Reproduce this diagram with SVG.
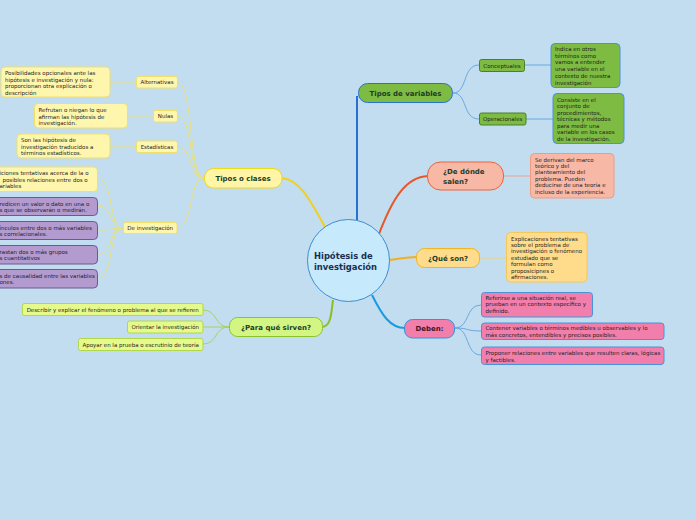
<svg xmlns="http://www.w3.org/2000/svg" width="696" height="520" viewBox="0 0 696 520">
<style>
text{font-family:"DejaVu Sans","Verdana",sans-serif;}
.s{font-size:5.5px;fill:#1e1e1e;}
.l{font-size:5.5px;fill:#1e1e1e;}
.h{font-size:7px;font-weight:bold;fill:#1d3d28;}
.c{font-size:8.4px;font-weight:bold;fill:#1b2e52;}
.yb{fill:#fff6ad;stroke:#f0df6a;stroke-width:1;}
.pb{fill:#b39bd0;stroke:#6b5a8a;stroke-width:1;}
.gb{fill:#7dbb42;stroke:#4b7f2a;stroke-width:1;}
.pk{fill:#f27fab;stroke:#4a92d8;stroke-width:1;}
.lg{fill:#e6fa8c;stroke:#b2d64c;stroke-width:1;}
.cy{fill:none;stroke:#e8e27a;stroke-width:1;}
.cb{fill:none;stroke:#6aa8e0;stroke-width:1;}
.cg{fill:none;stroke:#a9d064;stroke-width:1;}
</style>
<rect x="0" y="0" width="696" height="520" fill="#c2ddf0"/>
<g id="connectors">
<path d="M357,221 L357,96" fill="none" stroke="#2a70d2" stroke-width="2"/>
<path d="M379,234 C392,200 405,177 428,176" fill="none" stroke="#e8562a" stroke-width="2"/>
<path d="M389,260 C400,259 405,257 417,257" fill="none" stroke="#f0b020" stroke-width="2"/>
<path d="M372,295 C382,315 390,328 405,328" fill="none" stroke="#1a9ae0" stroke-width="2"/>
<path d="M333,300 C331,315 331,326 322,327" fill="none" stroke="#8cbd22" stroke-width="2"/>
<path d="M325,227 C310,200 300,180 282,178" fill="none" stroke="#f0d020" stroke-width="2"/>
<path d="M453,93 C468,93 462,65 479,65" class="cb"/>
<path d="M453,93 C468,93 462,119 479,119" class="cb"/>
<path d="M524,65 L551,65" class="cb"/>
<path d="M526,119 L553,119" class="cb"/>
<path d="M503,176 L530,176" fill="none" stroke="#e8a596" stroke-width="1"/>
<path d="M479,258 L506,258" fill="none" stroke="#f3d270" stroke-width="1"/>
<path d="M455,328 C470,328 465,305 481,305" class="cb"/>
<path d="M455,328 C470,328 465,331 481,331" class="cb"/>
<path d="M455,328 C470,328 465,355 481,355" class="cb"/>
<path d="M229,327 C214,327 218,310 203,310" class="cg"/>
<path d="M229,327 L203,327" class="cg"/>
<path d="M229,327 C214,327 218,344 203,344" class="cg"/>
<path d="M204,178 C188,178 194,82 177,82" class="cy"/>
<path d="M204,178 C188,178 194,116 177,116" class="cy"/>
<path d="M204,178 C188,178 194,147 177,147" class="cy"/>
<path d="M204,178 C188,178 194,228 177,228" class="cy"/>
<path d="M110,82 L136,82" class="cy"/>
<path d="M128,116 L153,116" class="cy"/>
<path d="M110,147 L136,147" class="cy"/>
<path d="M123,228 C108,228 114,179 98,179" class="cy"/>
<path d="M123,228 C108,228 114,206 98,206" class="cy"/>
<path d="M123,228 C108,228 114,230 98,230" class="cy"/>
<path d="M123,228 C108,228 114,254 98,254" class="cy"/>
<path d="M123,228 C108,228 114,278 98,278" class="cy"/>
</g>
<g id="central">
<circle cx="348.5" cy="260.5" r="41" fill="#c6eafc" stroke="#3a8fd0" stroke-width="1"/>
<text class="c" x="314" y="259">Hipótesis de</text>
<text class="c" x="314" y="270">investigación</text>
</g>
<g id="tipos-variables">
<rect x="358.5" y="83.5" width="94" height="19" rx="9" fill="#7dbb42" stroke="#2a70d2" stroke-width="1"/>
<text class="h" x="405.5" y="95.5" text-anchor="middle">Tipos de variables</text>
</g>
<g id="conceptuales">
<rect x="479.5" y="59.5" width="45" height="12" rx="2" class="gb"/>
<text class="l" x="502" y="67.5" text-anchor="middle">Conceptuales</text>
</g>
<g id="operacionales">
<rect x="479.5" y="113" width="46.5" height="12" rx="2" class="gb"/>
<text class="l" x="502.7" y="121" text-anchor="middle">Operacionales</text>
</g>
<g id="conceptuales-desc">
<rect x="551" y="43.5" width="69" height="44" rx="4" fill="#7dbb42" stroke="#4a92d8" stroke-width="1"/>
<text class="s"><tspan x="555" y="51">Indica en otros</tspan><tspan x="555" y="57.7">términos como</tspan><tspan x="555" y="64.4">vamos a entender</tspan><tspan x="555" y="71.1">una variable en el</tspan><tspan x="555" y="77.8">contexto de nuestra</tspan><tspan x="555" y="84.5">investigación</tspan></text>
</g>
<g id="operacionales-desc">
<rect x="553" y="93.5" width="71" height="50" rx="4" fill="#7dbb42" stroke="#4a92d8" stroke-width="1"/>
<text class="s"><tspan x="557" y="101.5">Consiste en el</tspan><tspan x="557" y="108">conjunto de</tspan><tspan x="557" y="114.5">procedimientos,</tspan><tspan x="557" y="121">técnicas y métodos</tspan><tspan x="557" y="127.5">para medir una</tspan><tspan x="557" y="134">variable en los casos</tspan><tspan x="557" y="140.5">de la investigación.</tspan></text>
</g>
<g id="de-donde">
<rect x="427.5" y="162" width="76" height="28" rx="13" fill="#f8b8a6" stroke="#e8643c" stroke-width="1"/>
<text class="h" x="443" y="174">¿De dónde</text>
<text class="h" x="443" y="184">salen?</text>
</g>
<g id="de-donde-desc">
<rect x="530.5" y="153.5" width="83.5" height="44.5" rx="4" fill="#f8b8a6" stroke="#f09a84" stroke-width="1"/>
<text class="s"><tspan x="535" y="161.5">Se derivan del marco</tspan><tspan x="535" y="167.9">teórico y del</tspan><tspan x="535" y="174.3">planteamiento del</tspan><tspan x="535" y="180.7">problema. Pueden</tspan><tspan x="535" y="187.1">deducirse de una teoría e</tspan><tspan x="535" y="193.5">incluso de la experiencia.</tspan></text>
</g>
<g id="que-son">
<rect x="416.5" y="248.5" width="63" height="19" rx="8" fill="#fedc8c" stroke="#f2b422" stroke-width="1"/>
<text class="h" x="448" y="260.5" text-anchor="middle">¿Qué son?</text>
</g>
<g id="que-son-desc">
<rect x="506.5" y="232.5" width="80.5" height="49.5" rx="4" fill="#fedc8c" stroke="#f2c85a" stroke-width="1"/>
<text class="s"><tspan x="511" y="240.5">Explicaciones tentativas</tspan><tspan x="511" y="246.9">sobre el problema de</tspan><tspan x="511" y="253.3">investigación o fenómeno</tspan><tspan x="511" y="259.7">estudiado que se</tspan><tspan x="511" y="266.1">formulan como</tspan><tspan x="511" y="272.5">proposicipnes o</tspan><tspan x="511" y="278.9">afirmaciones.</tspan></text>
</g>
<g id="deben">
<rect x="404.5" y="319.5" width="50" height="18.5" rx="8" fill="#f27fab" stroke="#3a8fd8" stroke-width="1"/>
<text class="h" x="429.5" y="331" text-anchor="middle" style="fill:#3d1628">Deben:</text>
</g>
<g id="deben-1">
<rect x="481.5" y="292.5" width="111" height="24.5" rx="3" class="pk"/>
<text class="s"><tspan x="485.5" y="300">Referirse a una situación real, se</tspan><tspan x="485.5" y="306.4">prueban en un contexto específico y</tspan><tspan x="485.5" y="312.8">definido.</tspan></text>
</g>
<g id="deben-2">
<rect x="481.5" y="323" width="182.5" height="16.5" rx="3" class="pk"/>
<text class="s"><tspan x="485.5" y="330">Contener variables o términos medibles u observables y lo</tspan><tspan x="485.5" y="336.6">más concretos, entendibles y precisos posibles.</tspan></text>
</g>
<g id="deben-3">
<rect x="481.5" y="347" width="182.5" height="17.5" rx="3" class="pk"/>
<text class="s"><tspan x="485.5" y="355">Proponer relaciones entre variables que resulten claras, lógicas</tspan><tspan x="485.5" y="361.6">y factibles.</tspan></text>
</g>
<g id="para-que">
<rect x="229.5" y="317.5" width="93" height="19" rx="8" fill="#d2f584" stroke="#8cc32a" stroke-width="1"/>
<text class="h" x="276" y="329.5" text-anchor="middle">¿Para qué sirven?</text>
</g>
<g id="para-que-1">
<rect x="22.5" y="303.5" width="180.5" height="12" rx="2" class="lg"/>
<text class="s" x="112.7" y="311.5" text-anchor="middle">Describir y explicar el fenómeno o problema al que se refieren</text>
</g>
<g id="para-que-2">
<rect x="127.5" y="321" width="75.5" height="12" rx="2" class="lg"/>
<text class="s" x="165.2" y="329" text-anchor="middle">Orientar la investigación</text>
</g>
<g id="para-que-3">
<rect x="78.5" y="338.5" width="124.5" height="12" rx="2" class="lg"/>
<text class="s" x="140.7" y="346.5" text-anchor="middle">Apoyar en la prueba o escrutinio de teoría</text>
</g>
<g id="tipos-clases">
<rect x="204.5" y="168.5" width="77.5" height="19.5" rx="9" fill="#fff5a5" stroke="#f0d81c" stroke-width="1"/>
<text class="h" x="243" y="180.5" text-anchor="middle">Tipos o clases</text>
</g>
<g id="alternativas">
<rect x="136.5" y="76.5" width="41" height="11.5" rx="2" class="yb"/>
<text class="s" x="157" y="84.2" text-anchor="middle">Alternativas</text>
</g>
<g id="nulas">
<rect x="153.5" y="110.5" width="24" height="11.5" rx="2" class="yb"/>
<text class="s" x="165.5" y="118.2" text-anchor="middle">Nulas</text>
</g>
<g id="estadisticas">
<rect x="136.5" y="141" width="41" height="11.5" rx="2" class="yb"/>
<text class="s" x="157" y="148.8" text-anchor="middle">Estadísticas</text>
</g>
<g id="de-investigacion">
<rect x="123.5" y="222.5" width="53.5" height="11" rx="2" class="yb"/>
<text class="s" x="150.2" y="230" text-anchor="middle">De investigación</text>
</g>
<g id="alternativas-desc">
<rect x="1" y="67" width="109" height="30" rx="4" class="yb"/>
<text class="s"><tspan x="5" y="75">Posibilidades opcionales ante las</tspan><tspan x="5" y="81.5">hipótesis e investigación y nula:</tspan><tspan x="5" y="88">proporcionan otra explicación o</tspan><tspan x="5" y="94.5">descripción</tspan></text>
</g>
<g id="nulas-desc">
<rect x="34.5" y="103.5" width="93" height="24.5" rx="4" class="yb"/>
<text class="s"><tspan x="38.5" y="112">Refrutan o niegan lo que</tspan><tspan x="38.5" y="118.5">afirman las hipótesis de</tspan><tspan x="38.5" y="125">investigación.</tspan></text>
</g>
<g id="estadisticas-desc">
<rect x="17" y="134" width="93" height="24" rx="4" class="yb"/>
<text class="s"><tspan x="21" y="142">Son las hipótesis de</tspan><tspan x="21" y="148.5">investigación traducidos a</tspan><tspan x="21" y="155">términos estadísticos.</tspan></text>
</g>
<g id="inv-1">
<rect x="-10" y="167" width="107.5" height="24.5" rx="4" class="yb"/>
<text class="s"><tspan x="-0.5" y="175">iciones tentativas acerca de la o</tspan><tspan x="2.5" y="181.5">posibles relaciones entre dos o</tspan><tspan x="-0.5" y="188">ariables</tspan></text>
</g>
<g id="inv-2">
<rect x="-10" y="197.5" width="107.5" height="18" rx="4" class="pb"/>
<text class="s"><tspan x="-0.5" y="205.5">redicen un valor o dato en una o</tspan><tspan x="-0.5" y="212">s que se observarán o medirán.</tspan></text>
</g>
<g id="inv-3">
<rect x="-10" y="221.5" width="107.5" height="18" rx="4" class="pb"/>
<text class="s"><tspan x="-0.5" y="229.5">ínculos entre dos o más variables</tspan><tspan x="-0.5" y="236">s correlacionales.</tspan></text>
</g>
<g id="inv-4">
<rect x="-10" y="245.5" width="107.5" height="18.5" rx="4" class="pb"/>
<text class="s"><tspan x="-0.5" y="253.5">rastan dos o más grupos</tspan><tspan x="-0.5" y="260">s cuantitativos</tspan></text>
</g>
<g id="inv-5">
<rect x="-10" y="269.5" width="107.5" height="18.5" rx="4" class="pb"/>
<text class="s"><tspan x="-0.5" y="277.5">s de causalidad entre las variables</tspan><tspan x="-0.5" y="284">ones.</tspan></text>
</g>
</svg>
